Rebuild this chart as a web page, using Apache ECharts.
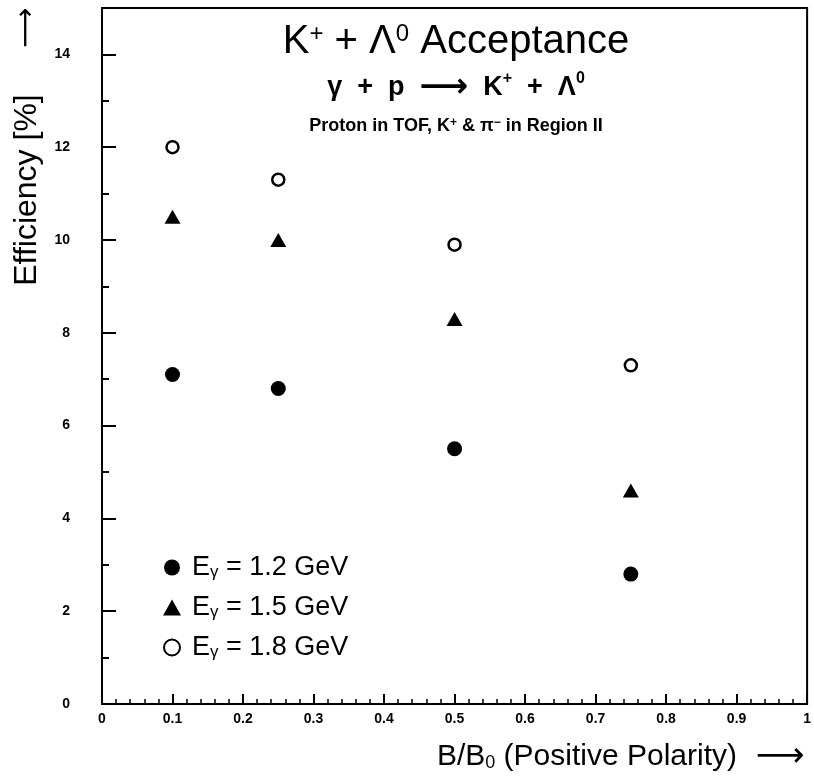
<!DOCTYPE html>
<html>
<head>
<meta charset="utf-8">
<script src="https://cdn.jsdelivr.net/npm/echarts@6/dist/echarts.min.js"></script>
<style>html,body{margin:0;padding:0;background:#fff}#c{width:814px;height:782px}</style>
</head>
<body>
<div id="c"></div>
<script>
// ---- data ----
const xValues = [0.1, 0.25, 0.5, 0.75];
const eff12 = [7.1, 6.8, 5.5, 2.8];
const eff15 = [10.5, 10.0, 8.3, 4.6];
const eff18 = [12.0, 11.3, 9.9, 7.3];
const energyNames = ['1.2 GeV', '1.5 GeV', '1.8 GeV'];
const titleText = 'K{sup|+} + Λ{sup|0} Acceptance';
const subtitleText = 'γ  +  p  {ar|⟶}  K{sup|+}  +  Λ{sup|0}';
const noteText = 'Proton in TOF, K{sup|+} & π{sup|−} in Region II';
const xTitle = 'B/B{sub|0} (Positive Polarity)';
const yTitle = 'Efficiency [%]';
const arrowText = '⟶';

const FONT = 'Liberation Sans, Arial, DejaVu Sans, sans-serif';
const pairs = arr => xValues.map((x, i) => [x, arr[i]]);

const chart = echarts.init(document.getElementById('c'), null, {renderer: 'canvas'});
chart.setOption({
  backgroundColor: '#fff',
  animation: false,
  grid: {left: 102, right: 4, top: 8, bottom: 78, show: true, borderColor: '#000', borderWidth: 2, backgroundColor: 'transparent'},
  xAxis: [{
    type: 'value', min: 0, max: 1, interval: 0.1, position: 'bottom',
    axisLine: {show: true, lineStyle: {color: '#000', width: 2}},
    axisTick: {show: true, inside: true, length: 10, lineStyle: {color: '#000', width: 2}},
    minorTick: {show: true, splitNumber: 5, length: 5, lineStyle: {color: '#000', width: 1.5}},
    axisLabel: {color: '#000', fontFamily: FONT, fontWeight: 'bold', fontSize: 14, margin: 8,
      formatter: v => (v === 0 ? '0' : (Math.abs(v - 1) < 1e-9 ? '1' : v.toFixed(1)))},
    splitLine: {show: false}
  }],
  yAxis: [{
    type: 'value', min: 0, max: 15, interval: 2, position: 'left',
    axisLine: {show: true, lineStyle: {color: '#000', width: 2}},
    axisTick: {show: true, inside: true, length: 14, lineStyle: {color: '#000', width: 2}},
    axisLabel: {color: '#000', fontFamily: FONT, fontWeight: 'bold', fontSize: 14, margin: 32,
      showMaxLabel: false, formatter: v => (v % 2 === 0 ? String(v) : '')},
    splitLine: {show: false}
  }, {
    type: 'value', min: 0, max: 15, interval: 1, position: 'left', offset: 0,
    axisLine: {show: false},
    axisTick: {show: true, inside: true, length: 7, lineStyle: {color: '#000', width: 2}},
    axisLabel: {show: false},
    splitLine: {show: false}
  }],
  legend: {
    orient: 'vertical', left: 158, top: 549, itemWidth: 18, itemHeight: 16, itemGap: 13,
    data: energyNames,
    textStyle: {color: '#000', fontFamily: FONT, fontSize: 27, lineHeight: 26, padding: [0, 0, 0, 6],
      rich: {s: {fontFamily: FONT, fontSize: 17, verticalAlign: 'bottom', color: '#000', padding: [10, 0, 0, 0]}}},
    formatter: n => 'E{s|γ} = ' + n
  },
  series: [{
    name: energyNames[0], type: 'scatter', data: pairs(eff12), symbol: 'circle', symbolSize: 15,
    itemStyle: {color: '#000', opacity: 1}
  }, {
    name: energyNames[1], type: 'scatter', data: pairs(eff15), symbol: 'triangle', symbolSize: [16, 14],
    itemStyle: {color: '#000', opacity: 1}
  }, {
    name: energyNames[2], type: 'scatter', data: pairs(eff18), symbol: 'circle', symbolSize: 12,
    itemStyle: {color: '#fff', borderColor: '#000', borderWidth: 2.5, opacity: 1}
  }],
  graphic: [{
    type: 'text', x: 456, y: 42,
    style: {text: titleText, fill: '#000', fontFamily: FONT, fontSize: 40, align: 'center', verticalAlign: 'middle',
      rich: {sup: {fontFamily: FONT, fontSize: 24, verticalAlign: 'top', fill: '#000'}}}
  }, {
    type: 'text', x: 456, y: 88,
    style: {text: subtitleText, fill: '#000', fontFamily: FONT, fontWeight: 'bold', fontSize: 27, align: 'center', verticalAlign: 'middle',
      rich: {sup: {fontFamily: FONT, fontWeight: 'bold', fontSize: 16, verticalAlign: 'top', fill: '#000'},
             ar: {fontFamily: 'DejaVu Sans', fontWeight: 'bold', fontSize: 34, fill: '#000'}}}
  }, {
    type: 'text', x: 456, y: 126,
    style: {text: noteText, fill: '#000', fontFamily: FONT, fontWeight: 'bold', fontSize: 18, align: 'center', verticalAlign: 'middle',
      rich: {sup: {fontFamily: FONT, fontWeight: 'bold', fontSize: 12, verticalAlign: 'top', fill: '#000'}}}
  }, {
    type: 'text', x: 737, y: 757,
    style: {text: xTitle, fill: '#000', fontFamily: FONT, fontSize: 30, align: 'right', verticalAlign: 'middle',
      rich: {sub: {fontFamily: FONT, fontSize: 18, verticalAlign: 'bottom', fill: '#000'}}}
  }, {
    type: 'text', x: 780, y: 757,
    style: {text: arrowText, fill: '#000', fontFamily: 'DejaVu Sans', fontSize: 34, align: 'center', verticalAlign: 'middle'}
  }, {
    type: 'text', x: 27, y: 190, rotation: Math.PI / 2,
    style: {text: yTitle, fill: '#000', fontFamily: FONT, fontSize: 32, align: 'center', verticalAlign: 'middle'}
  }, {
    type: 'text', x: 27, y: 28, rotation: Math.PI / 2,
    style: {text: arrowText, fill: '#000', fontFamily: 'DejaVu Sans', fontSize: 28, align: 'center', verticalAlign: 'middle'}
  }]
});
</script>
</body>
</html>
